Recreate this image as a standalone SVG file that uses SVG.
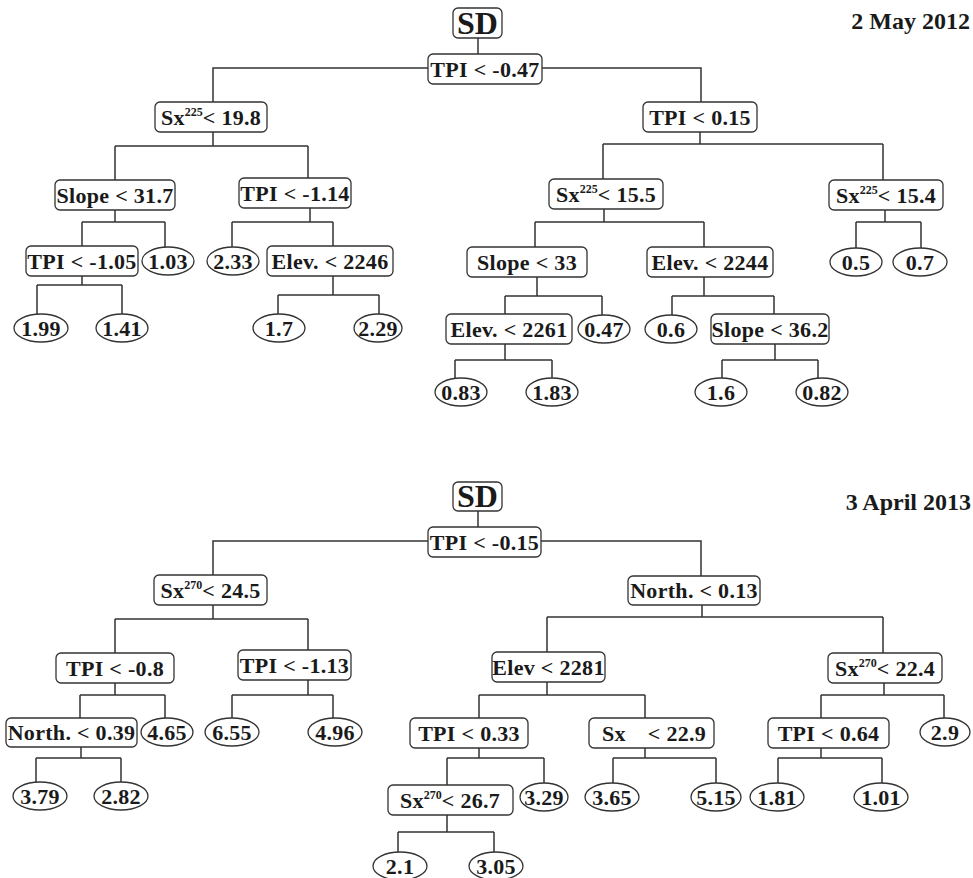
<svg xmlns="http://www.w3.org/2000/svg" width="973" height="878" viewBox="0 0 973 878">
<style>
.bg{fill:#fff}
.n rect{fill:#fff;stroke:#333;stroke-width:1.3}
.n ellipse{fill:#fff;stroke:#333;stroke-width:1.3}
.n text{font-family:"Liberation Serif","Times New Roman",serif;font-weight:bold;fill:#1a1a1a;text-anchor:middle;font-size:22px;letter-spacing:0.3px}
.n text .sup{font-size:12px;letter-spacing:0}
.n text.sd{font-size:32px;letter-spacing:0}
.date{font-family:"Liberation Serif","Times New Roman",serif;font-weight:bold;fill:#1a1a1a;text-anchor:end;font-size:24px}
#connectors path{fill:none;stroke:#333;stroke-width:1.5}
</style>
<rect class="bg" x="0" y="0" width="973" height="878"/>
<g id="connectors">
<path d="M478 38V54"/>
<path d="M428 68H213V102M542 68H701V102"/>
<path d="M213 132V146M115 146H308M115 146V180M308 146V178"/>
<path d="M700 132V144M603 144H883M603 144V179M883 144V180"/>
<path d="M115 210V222M82 222H165M82 222V246M165 222V247"/>
<path d="M310 208V222M232 222H333M232 222V247M333 222V246"/>
<path d="M604 209V222M535 222H704M535 222V247M704 222V247"/>
<path d="M885 210V222M856 222H921M856 222V248M921 222V248"/>
<path d="M82 276V285M37 285H122M37 285V314M122 285V314"/>
<path d="M333 276V295M278 295H379M278 295V314M379 295V314"/>
<path d="M537 277V296M505 296H602M505 296V314M602 296V315"/>
<path d="M704 277V296M672 296H774M672 296V315M774 296V314"/>
<path d="M505 344V360M455 360H552M455 360V378M552 360V378"/>
<path d="M775 344V360M722 360H818M722 360V378M818 360V378"/>
<path d="M478 511V527"/>
<path d="M428 541H213V575M541 541H701V576"/>
<path d="M213 605V619M115 619H308M115 619V653M308 619V650"/>
<path d="M702 605V617M547 617H883M547 617V652M883 617V653"/>
<path d="M115 683V695M80 695H165M80 695V718M165 695V718"/>
<path d="M308 680V695M232 695H333M232 695V718M333 695V718"/>
<path d="M547 682V695M479 695H645M479 695V718M645 695V718"/>
<path d="M884 683V695M821 695H944M821 695V718M944 695V718"/>
<path d="M81 747V758M36 758H121M36 758V782M121 758V782"/>
<path d="M479 748V758M447 758H544M447 758V785M544 758V783"/>
<path d="M645 748V758M613 758H716M613 758V783M716 758V783"/>
<path d="M821 748V758M778 758H882M778 758V783M882 758V783"/>
<path d="M447 815V832M398 832H494M398 832V852M494 832V852"/>
</g>
<text class="date" x="970" y="29">2 May 2012</text>
<text class="date" x="971" y="510">3 April 2013</text>
<g id="t_root" class="n"><rect x="453" y="8" width="49" height="30" rx="5"/><text class="sd" x="477.5" y="34">SD</text></g>
<g id="t1" class="n"><rect x="428" y="54" width="114" height="30" rx="5"/><text x="485" y="77">TPI &lt; -0.47</text></g>
<g id="t2" class="n"><rect x="155" y="102" width="112" height="30" rx="5"/><text x="211" y="125">Sx<tspan class="sup" dy="-9">225</tspan><tspan dy="9">&lt; 19.8</tspan></text></g>
<g id="t3" class="n"><rect x="643" y="102" width="114" height="30" rx="5"/><text x="700" y="125">TPI &lt; 0.15</text></g>
<g id="t4" class="n"><rect x="55" y="180" width="120" height="30" rx="5"/><text x="115" y="203">Slope &lt; 31.7</text></g>
<g id="t5" class="n"><rect x="239" y="178" width="112" height="30" rx="5"/><text x="295" y="201">TPI &lt; -1.14</text></g>
<g id="t6" class="n"><rect x="549" y="179" width="114" height="30" rx="5"/><text x="606" y="202">Sx<tspan class="sup" dy="-9">225</tspan><tspan dy="9">&lt; 15.5</tspan></text></g>
<g id="t7" class="n"><rect x="829" y="180" width="114" height="30" rx="5"/><text x="886" y="203">Sx<tspan class="sup" dy="-9">225</tspan><tspan dy="9">&lt; 15.4</tspan></text></g>
<g id="t8" class="n"><rect x="26" y="246" width="112" height="30" rx="5"/><text x="82" y="269">TPI &lt; -1.05</text></g>
<g id="t9" class="n"><ellipse cx="168" cy="261" rx="26" ry="14"/><text x="168" y="268.5">1.03</text></g>
<g id="t10" class="n"><ellipse cx="233" cy="261" rx="26" ry="14"/><text x="233" y="268.5">2.33</text></g>
<g id="t11" class="n"><rect x="267" y="246" width="126" height="30" rx="5"/><text x="330" y="269">Elev. &lt; 2246</text></g>
<g id="t12" class="n"><rect x="467" y="247" width="120" height="30" rx="5"/><text x="527" y="270">Slope &lt; 33</text></g>
<g id="t13" class="n"><rect x="647" y="247" width="126" height="30" rx="5"/><text x="710" y="270">Elev. &lt; 2244</text></g>
<g id="t14" class="n"><ellipse cx="856" cy="262" rx="26" ry="14"/><text x="856" y="269.5">0.5</text></g>
<g id="t15" class="n"><ellipse cx="920" cy="262" rx="27" ry="14"/><text x="920" y="269.5">0.7</text></g>
<g id="t16" class="n"><ellipse cx="41" cy="328" rx="27" ry="14"/><text x="41" y="335.5">1.99</text></g>
<g id="t17" class="n"><ellipse cx="122" cy="328" rx="26" ry="14"/><text x="122" y="335.5">1.41</text></g>
<g id="t18" class="n"><ellipse cx="279" cy="328" rx="26" ry="14"/><text x="279" y="335.5">1.7</text></g>
<g id="t19" class="n"><ellipse cx="378" cy="328" rx="24" ry="14"/><text x="378" y="335.5">2.29</text></g>
<g id="t20" class="n"><rect x="446" y="314" width="126" height="30" rx="5"/><text x="509" y="337">Elev. &lt; 2261</text></g>
<g id="t21" class="n"><ellipse cx="604" cy="329" rx="26" ry="14"/><text x="604" y="336.5">0.47</text></g>
<g id="t22" class="n"><ellipse cx="671" cy="329" rx="26" ry="14"/><text x="671" y="336.5">0.6</text></g>
<g id="t23" class="n"><rect x="711" y="314" width="118" height="30" rx="5"/><text x="770" y="337">Slope &lt; 36.2</text></g>
<g id="t24" class="n"><ellipse cx="461" cy="392" rx="26" ry="14"/><text x="461" y="399.5">0.83</text></g>
<g id="t25" class="n"><ellipse cx="552" cy="392" rx="26" ry="14"/><text x="552" y="399.5">1.83</text></g>
<g id="t26" class="n"><ellipse cx="721" cy="392" rx="26" ry="14"/><text x="721" y="399.5">1.6</text></g>
<g id="t27" class="n"><ellipse cx="822" cy="392" rx="26" ry="14"/><text x="822" y="399.5">0.82</text></g>
<g id="b_root" class="n"><rect x="453" y="482" width="49" height="29" rx="5"/><text class="sd" x="477.5" y="507">SD</text></g>
<g id="b1" class="n"><rect x="428" y="527" width="113" height="30" rx="5"/><text x="484.5" y="550">TPI &lt; -0.15</text></g>
<g id="b2" class="n"><rect x="154" y="575" width="113" height="30" rx="5"/><text x="210.5" y="598">Sx<tspan class="sup" dy="-9">270</tspan><tspan dy="9">&lt; 24.5</tspan></text></g>
<g id="b3" class="n"><rect x="628" y="576" width="132" height="29" rx="5"/><text x="694" y="598">North. &lt; 0.13</text></g>
<g id="b4" class="n"><rect x="56" y="653" width="118" height="30" rx="5"/><text x="115" y="676">TPI &lt; -0.8</text></g>
<g id="b5" class="n"><rect x="238" y="650" width="113" height="30" rx="5"/><text x="294.5" y="673">TPI &lt; -1.13</text></g>
<g id="b6" class="n"><rect x="492" y="652" width="113" height="30" rx="5"/><text x="548.5" y="675">Elev &lt; 2281</text></g>
<g id="b7" class="n"><rect x="828" y="653" width="114" height="30" rx="5"/><text x="885" y="676">Sx<tspan class="sup" dy="-9">270</tspan><tspan dy="9">&lt; 22.4</tspan></text></g>
<g id="b8" class="n"><rect x="6" y="718" width="131" height="29" rx="5"/><text x="71.5" y="740">North. &lt; 0.39</text></g>
<g id="b9" class="n"><ellipse cx="167" cy="732" rx="26" ry="14"/><text x="167" y="739.5">4.65</text></g>
<g id="b10" class="n"><ellipse cx="232" cy="732" rx="27" ry="14"/><text x="232" y="739.5">6.55</text></g>
<g id="b11" class="n"><ellipse cx="335" cy="732" rx="27" ry="14"/><text x="335" y="739.5">4.96</text></g>
<g id="b12" class="n"><rect x="410" y="718" width="118" height="30" rx="5"/><text x="469" y="741">TPI &lt; 0.33</text></g>
<g id="b13" class="n"><rect x="589" y="718" width="125" height="30" rx="5"/><text x="614" y="741">Sx</text><text x="677" y="741">&lt; 22.9</text></g>
<g id="b14" class="n"><rect x="768" y="718" width="121" height="30" rx="5"/><text x="828.5" y="741">TPI &lt; 0.64</text></g>
<g id="b15" class="n"><ellipse cx="945" cy="732" rx="25" ry="14"/><text x="945" y="739.5">2.9</text></g>
<g id="b16" class="n"><ellipse cx="40" cy="796" rx="27" ry="14"/><text x="40" y="803.5">3.79</text></g>
<g id="b17" class="n"><ellipse cx="121" cy="796" rx="27" ry="14"/><text x="121" y="803.5">2.82</text></g>
<g id="b18" class="n"><rect x="388" y="785" width="125" height="30" rx="5"/><text x="450" y="808">Sx<tspan class="sup" dy="-9">270</tspan><tspan dy="9">&lt; 26.7</tspan></text></g>
<g id="b19" class="n"><ellipse cx="544" cy="797" rx="24" ry="14"/><text x="544" y="804.5">3.29</text></g>
<g id="b20" class="n"><ellipse cx="612" cy="797" rx="27" ry="14"/><text x="612" y="804.5">3.65</text></g>
<g id="b21" class="n"><ellipse cx="716" cy="797" rx="25" ry="14"/><text x="716" y="804.5">5.15</text></g>
<g id="b22" class="n"><ellipse cx="777" cy="797" rx="27" ry="14"/><text x="777" y="804.5">1.81</text></g>
<g id="b23" class="n"><ellipse cx="881" cy="797" rx="27" ry="14"/><text x="881" y="804.5">1.01</text></g>
<g id="b24" class="n"><ellipse cx="400" cy="866" rx="27" ry="14"/><text x="400" y="873.5">2.1</text></g>
<g id="b25" class="n"><ellipse cx="496" cy="866" rx="27" ry="14"/><text x="496" y="873.5">3.05</text></g>
</svg>
